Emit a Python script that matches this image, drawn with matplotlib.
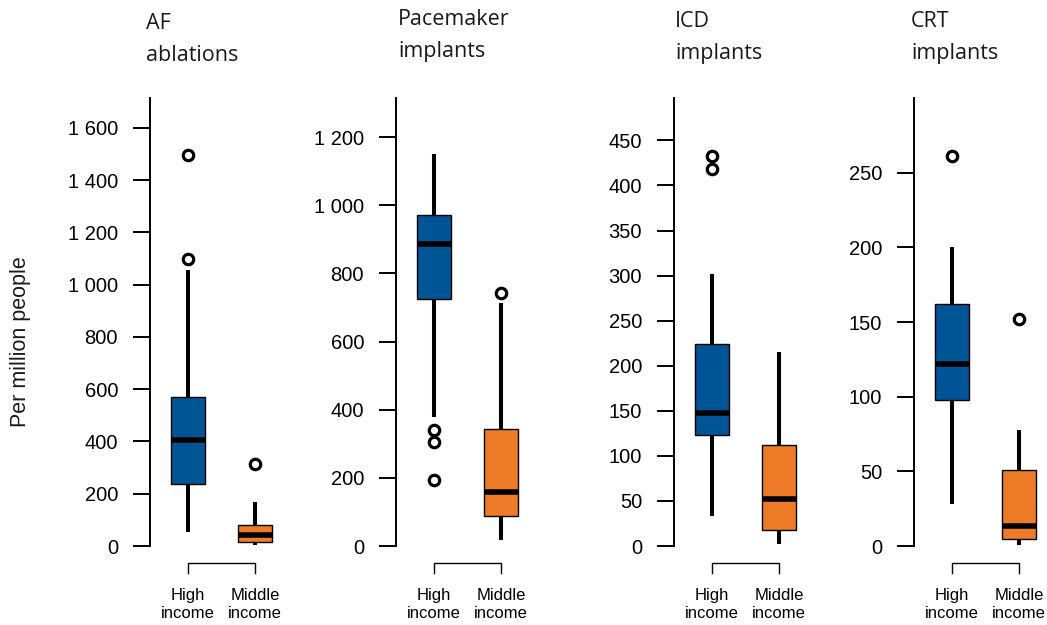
import matplotlib
matplotlib.use("Agg")
import matplotlib.pyplot as plt
from matplotlib.transforms import blended_transform_factory

# ---- data ----
titles = ["AF\nablations", "Pacemaker\nimplants", "ICD\nimplants", "CRT\nimplants"]
groups = ["High\nincome", "Middle\nincome"]

# each: [whislo, q1, med, q3, whishi]
af_high = [54, 239, 405, 571, 1056]
af_mid = [3, 15, 41, 79, 169]
af_high_out = [1497, 1097]
af_mid_out = [313]

pm_high = [379, 724, 887, 973, 1150]
pm_mid = [19, 87, 159, 343, 713]
pm_high_out = [340, 304, 193]
pm_mid_out = [742]

icd_high = [33, 123, 147.5, 224.5, 302]
icd_mid = [2.6, 17.4, 52.5, 112, 215]
icd_high_out = [433, 418]
icd_mid_out = []

crt_high = [28, 98, 121.7, 162, 200]
crt_mid = [0.7, 4.5, 13.4, 50.7, 78]
crt_high_out = [261]
crt_mid_out = [151.8]

yticks_list = [
    [0, 200, 400, 600, 800, 1000, 1200, 1400, 1600],
    [0, 200, 400, 600, 800, 1000, 1200],
    [0, 50, 100, 150, 200, 250, 300, 350, 400, 450],
    [0, 50, 100, 150, 200, 250],
]
ytick_labels_list = [
    ["0", "200", "400", "600", "800", "1 000", "1 200", "1 400", "1 600"],
    ["0", "200", "400", "600", "800", "1 000", "1 200"],
    ["0", "50", "100", "150", "200", "250", "300", "350", "400", "450"],
    ["0", "50", "100", "150", "200", "250"],
]
ytops = [1714, 1315, 497, 300]

panels = [
    (af_high, af_mid, af_high_out, af_mid_out),
    (pm_high, pm_mid, pm_high_out, pm_mid_out),
    (icd_high, icd_mid, icd_high_out, icd_mid_out),
    (crt_high, crt_mid, crt_high_out, crt_mid_out),
]

colors = ["#005596", "#EE7B27"]

# ---- layout ----
W, H = 1047, 625
fig = plt.figure(figsize=(W / 100, H / 100), dpi=100)
spine_px = [150, 396, 674, 914]
title_x_px = [146, 398, 675, 911]
title_y_px = [13, 9, 11, 11]
xmin, xmax = 0.43, 2.55
unit_px = 67
ax_w = (xmax - xmin) * unit_px
ax_bottom_px, ax_top_px = 546, 98

sans = ["Liberation Sans", "DejaVu Sans"]
title_font = ["Open Sans", "DejaVu Sans"]

for i, (high, mid, hout, mout) in enumerate(panels):
    ax = fig.add_axes([spine_px[i] / W, (H - ax_bottom_px) / H,
                       ax_w / W, (ax_bottom_px - ax_top_px) / H])
    stats = []
    for vals, outs, lab in ((high, hout, groups[0]), (mid, mout, groups[1])):
        stats.append(dict(whislo=vals[0], q1=vals[1], med=vals[2], q3=vals[3],
                          whishi=vals[4], fliers=outs, label=lab))
    bp = ax.bxp(stats, positions=[1, 2], widths=0.5, patch_artist=True,
                showcaps=False,
                boxprops=dict(edgecolor="black", linewidth=1.0),
                medianprops=dict(color="black", linewidth=4.0, solid_capstyle="butt"),
                whiskerprops=dict(color="black", linewidth=2.9, solid_capstyle="butt"),
                flierprops=dict(marker="o", markerfacecolor="none",
                                markeredgecolor="black", markersize=7.5,
                                markeredgewidth=2.3))
    for patch, c in zip(bp["boxes"], colors):
        patch.set_facecolor(c)
        patch.set_zorder(3)
    for m in bp["medians"]:
        m.set_zorder(4)
    for art in bp["whiskers"] + bp["fliers"] + bp["medians"] + bp["boxes"]:
        art.set_clip_on(False)

    ax.set_xlim(xmin, xmax)
    ax.set_ylim(0, ytops[i])
    for s in ("top", "right", "bottom"):
        ax.spines[s].set_visible(False)
    ax.spines["left"].set_linewidth(1.4)
    ax.set_xticks([])
    ax.set_yticks(yticks_list[i])
    ax.set_yticklabels(ytick_labels_list[i], fontfamily=sans, fontsize=14.5)
    ax.tick_params(axis="y", length=12, width=1.4, pad=11)

    # bracket and group labels below
    tr = blended_transform_factory(ax.transData, fig.transFigure)
    yb_top = (H - 563) / H
    yb_bot = (H - 573) / H
    ax.plot([1, 1, 2, 2], [yb_bot, yb_top, yb_top, yb_bot], color="black",
            linewidth=1.0, transform=tr, clip_on=False)
    for pos, lab in zip([1, 2], groups):
        ax.text(pos, (H - 588) / H, lab, transform=tr, ha="center", va="top",
                fontsize=12, fontfamily=sans, linespacing=1.25)

    # title
    fig.text(title_x_px[i] / W, 1 - title_y_px[i] / H, titles[i], ha="left", va="top",
             fontsize=15.5, fontfamily=title_font, linespacing=1.7, color="#1a1a1a")

fig.text(21 / W, 1 - 342 / H, "Per million people", rotation=90, ha="center",
         va="center", fontsize=15.5, fontfamily=sans, color="#1a1a1a")

fig.savefig("out.png", dpi=100)
